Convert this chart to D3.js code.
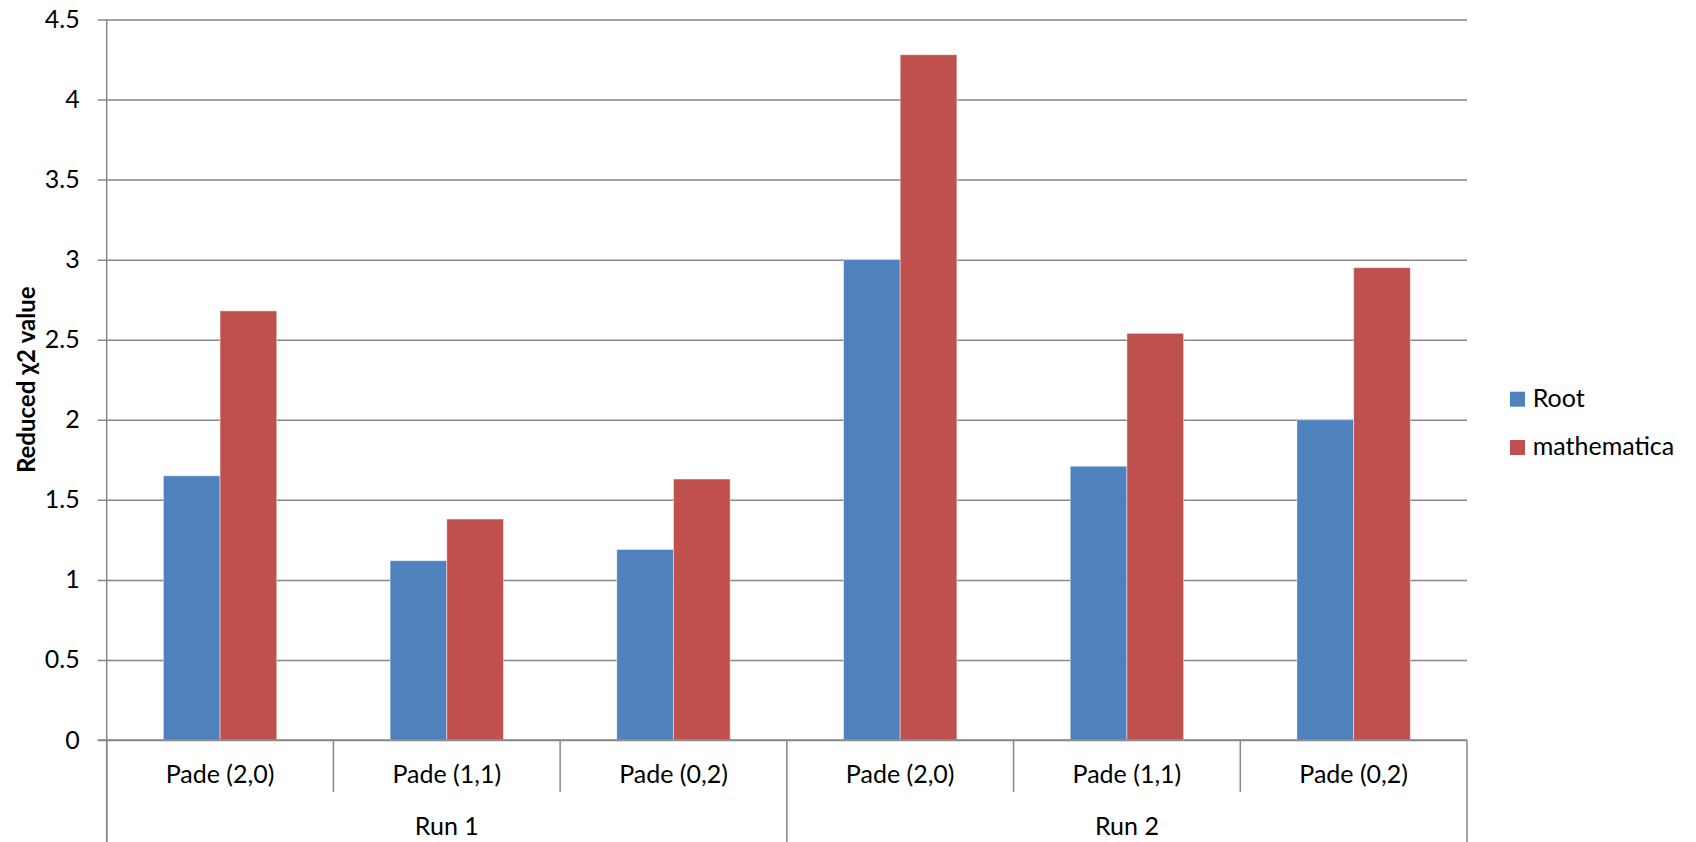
<!DOCTYPE html>
<html>
<head>
<meta charset="utf-8">
<script src="https://cdn.jsdelivr.net/npm/d3@7"></script>
<style>
  html, body { margin: 0; padding: 0; background: #fff; overflow: hidden; }
  svg { display: block; }
  svg text { font-family: Lato, "Open Sans", sans-serif; fill: #000; }
</style>
</head>
<body>
<svg id="chart"></svg>
<script>
// chart values
let runs = ['Run 1', 'Run 2']
let methods = ['Pade (2,0)', 'Pade (1,1)', 'Pade (0,2)']
let seriesNames = ['Root', 'mathematica']
let rootValues = [1.65, 1.12, 1.19, 3.00, 1.71, 2.00]
let mathematicaValues = [2.68, 1.38, 1.63, 4.28, 2.54, 2.95]
let yTicks = [0, 0.5, 1, 1.5, 2, 2.5, 3, 3.5, 4, 4.5]
let yLabel = 'Reduced χ2 value'
let colors = ['#4F81BD', '#C0504D']

let outerWidth = 1696
let outerHeight = 842
let margins = { top: 19.5, bottom: 102, left: 106.7, right: 229 }
let innerWidth = outerWidth - margins.left - margins.right
let innerHeight = outerHeight - margins.top - margins.bottom

let svg = d3.select('#chart')
  .attr('width', outerWidth)
  .attr('height', outerHeight)

// one slot per run/method pair
let categories = []
runs.forEach((r, i) => methods.forEach((m, j) => categories.push({ run: r, method: m, idx: i * methods.length + j })))

// scales in page coords
let xScale = d3.scaleBand()
  .domain(categories.map(d => d.idx))
  .range([margins.left, margins.left + innerWidth])

let seriesScale = d3.scaleBand()
  .domain(seriesNames)
  .range([0, xScale.bandwidth()])
  .paddingInner(0)
  .paddingOuter(1)

let yScale = d3.scaleLinear()
  .domain([0, 4.5])
  .range([margins.top + innerHeight, margins.top])

let y0 = yScale(0)
let xEnd = margins.left + innerWidth
let gridColor = '#878787'

// gridlines (axis with no labels)
let yAxis = d3.axisLeft(yScale)
  .tickValues(yTicks)
  .tickFormat('')
  .tickSize(-innerWidth)

svg.append('g')
  .attr('class', 'y axis')
  .attr('transform', 'translate(' + margins.left + ',0)')
  .call(yAxis)
  .call(g => g.select('.domain').remove())
  .call(g => g.selectAll('.tick line')
    .attr('x1', -9)
    .attr('stroke', gridColor)
    .attr('stroke-width', 1.5))

// y tick labels
svg.selectAll('text.ytick')
  .data(yTicks)
  .enter()
  .append('text')
  .attr('class', 'ytick')
  .attr('x', margins.left - 27)
  .attr('y', d => yScale(d))
  .attr('dy', '0.34em')
  .attr('text-anchor', 'end')
  .style('font-size', '25px')
  .text(d => d)

// bars
let barData = []
categories.forEach(c => {
  barData.push({ cat: c.idx, s: 'Root', v: rootValues[c.idx], color: colors[0] })
  barData.push({ cat: c.idx, s: 'mathematica', v: mathematicaValues[c.idx], color: colors[1] })
})

svg.selectAll('rect.bar')
  .data(barData)
  .enter()
  .append('rect')
  .attr('class', 'bar')
  .attr('x', d => xScale(d.cat) + seriesScale(d.s))
  .attr('y', d => yScale(d.v))
  .attr('width', seriesScale.bandwidth())
  .attr('height', d => y0 - yScale(d.v))
  .attr('fill', d => d.color)
  .attr('stroke', 'rgba(255,255,255,0.45)')
  .attr('stroke-width', 1)

// left axis line, runs down through the category rows
svg.append('line')
  .attr('x1', margins.left).attr('x2', margins.left)
  .attr('y1', margins.top).attr('y2', outerHeight)
  .attr('stroke', gridColor)
  .attr('stroke-width', 1.5)

// baseline
svg.append('line')
  .attr('x1', margins.left - 9).attr('x2', xEnd)
  .attr('y1', y0).attr('y2', y0)
  .attr('stroke', gridColor)
  .attr('stroke-width', 1.5)

// category separators
let seps = d3.range(categories.length + 1)
svg.selectAll('line.sep')
  .data(seps)
  .enter()
  .append('line')
  .attr('class', 'sep')
  .attr('x1', i => i === categories.length ? xEnd : xScale(i))
  .attr('x2', i => i === categories.length ? xEnd : xScale(i))
  .attr('y1', y0)
  .attr('y2', i => i % methods.length === 0 ? outerHeight : y0 + 52)
  .attr('stroke', gridColor)
  .attr('stroke-width', 1.5)

// method labels
svg.selectAll('text.method')
  .data(categories)
  .enter()
  .append('text')
  .attr('class', 'method')
  .attr('x', d => xScale(d.idx) + xScale.bandwidth() / 2)
  .attr('y', y0 + 43)
  .attr('text-anchor', 'middle')
  .style('font-size', '25px')
  .text(d => d.method)

// run labels
svg.selectAll('text.run')
  .data(runs)
  .enter()
  .append('text')
  .attr('class', 'run')
  .attr('x', (d, i) => xScale(i * methods.length) + xScale.bandwidth() * methods.length / 2)
  .attr('y', y0 + 95)
  .attr('text-anchor', 'middle')
  .style('font-size', '25px')
  .text(d => d)

// y label
let yl = margins.left - 81
let ym = margins.top + innerHeight / 2
svg.append('text')
  .attr('x', yl)
  .attr('y', ym)
  .attr('text-anchor', 'middle')
  .attr('dominant-baseline', 'central')
  .attr('transform', `rotate(-90 ${yl} ${ym})`)
  .style('font-size', '24px')
  .style('font-weight', 'bold')
  .text(yLabel)

// legend
let legendX = 1510
let legendY = 391.7
seriesNames.forEach((s, i) => {
  svg.append('rect')
    .attr('x', legendX)
    .attr('y', legendY + i * 48.3)
    .attr('width', 15)
    .attr('height', 15)
    .attr('fill', colors[i])
  svg.append('text')
    .attr('x', legendX + 22.7)
    .attr('y', legendY + i * 48.3 + 15)
    .style('font-size', '25px')
    .text(s)
})
</script>
</body>
</html>
